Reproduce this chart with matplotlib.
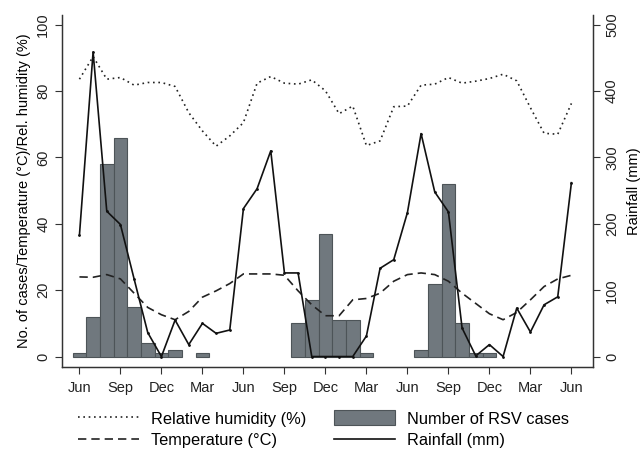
import matplotlib.pyplot as plt
import numpy as np
from matplotlib.patches import Patch
from matplotlib.lines import Line2D

plt.rcParams['font.family'] = ['Liberation Sans', 'DejaVu Sans']

# months from Jun (0) to Jun three years later (36)
months = np.arange(37)
tick_pos = np.arange(0, 37, 3)
tick_labels = ['Jun', 'Sep', 'Dec', 'Mar'] * 3 + ['Jun']

rsv_cases = [1, 12, 58, 66, 15, 4, 1, 2, 0, 1, 0, 0,
             0, 0, 0, 0, 10, 17, 37, 11, 11, 1, 0, 0,
             0, 2, 22, 52, 10, 1, 1, 0, 0, 0, 0, 0, 0]

humidity = [83.6, 90.4, 83.6, 84.1, 81.8, 82.6, 82.6, 81.4, 73.5, 68.0, 63.4, 66.5,
            70.5, 82.4, 84.4, 82.4, 82.1, 83.4, 80.1, 73.2, 75.5, 63.6, 65.0, 75.3,
            75.5, 81.8, 82.1, 84.1, 82.4, 83.0, 83.8, 85.1, 83.1, 75.0, 67.3, 67.0,
            76.3]

temperature = [24.0, 23.9, 24.7, 23.4, 19.1, 14.8, 12.6, 11.1, 13.6, 17.9, 19.8, 22.0,
               24.9, 24.9, 24.9, 24.5, 19.8, 15.6, 12.3, 12.3, 17.1, 17.5, 19.1, 22.7,
               24.7, 25.2, 24.7, 22.7, 19.1, 16.0, 12.9, 11.1, 13.3, 17.1, 21.1, 23.4,
               24.5]

rainfall = [183, 459, 219, 199, 117, 36, 0, 55, 18, 50, 35, 40,
            223, 253, 310, 126, 126, 0, 0, 0, 0, 31, 133, 146,
            217, 336, 248, 218, 43, 1, 18, 0, 73, 37, 78, 90,
            262]

bar_color = '#70787e'
bar_edge = '#4d5458'

fig = plt.figure(figsize=(6.4, 4.49), dpi=100)
ax = fig.add_axes([0.097, 0.183, 0.830, 0.784])
ax2 = ax.twinx()

# only draw months that had cases (zero-height bars would leave an edge line)
cases = np.array(rsv_cases)
has_cases = cases > 0
ax.bar(months[has_cases], cases[has_cases], width=1.0, color=bar_color,
       edgecolor=bar_edge, linewidth=0.8, zorder=1)
ax.plot(months, humidity, color='#222222', lw=1.2, linestyle=(0, (1, 2.2)), zorder=3)
ax.plot(months, temperature, color='#222222', lw=1.2, linestyle=(0, (5, 3)), zorder=3)
ax2.plot(months, rainfall, color='#111111', lw=1.2, marker='o', markersize=1.0, zorder=3)

ax.set_xlim(-1.27, 37.6)
ax.set_ylim(-3.1, 103)
ax2.set_ylim(-15.5, 515)

ax.set_xticks(tick_pos)
ax.set_xticklabels(tick_labels)
ax.set_yticks(np.arange(0, 101, 20))
ax.set_yticklabels([str(v) for v in range(0, 101, 20)], rotation=90, va='center')
ax2.set_yticks(np.arange(0, 501, 100))
ax2.set_yticklabels([str(v) for v in range(0, 501, 100)], rotation=90, va='center')

for a in (ax, ax2):
    a.spines['top'].set_visible(False)
    a.tick_params(labelsize=10.5, length=5, width=0.8, color='#333333', labelcolor='#222222')
    for s in a.spines.values():
        s.set_color('#333333')
        s.set_linewidth(0.9)
ax.tick_params(axis='x', pad=5)

ax.set_ylabel('No. of cases/Temperature (\u00b0C)/Rel. humidity (%)', fontsize=10.5, labelpad=4)
ax2.set_ylabel('Rainfall (mm)', fontsize=10.5, labelpad=6)

handles = [
    Line2D([], [], color='#222222', lw=1.2, linestyle=(0, (1, 2.2))),
    Line2D([], [], color='#222222', lw=1.2, linestyle=(0, (5, 3))),
    Patch(facecolor=bar_color, edgecolor=bar_edge, linewidth=0.8),
    Line2D([], [], color='#111111', lw=1.2),
]
labels = ['Relative humidity (%)', 'Temperature (\u00b0C)', 'Number of RSV cases', 'Rainfall (mm)']
fig.legend(handles, labels, loc='center', bbox_to_anchor=(0.506, 0.044), ncol=2, frameon=False,
           fontsize=11.8, handlelength=3.72, handleheight=1.04, handletextpad=0.73,
           columnspacing=1.7, labelspacing=0.33)

fig.savefig('out.png', dpi=100)
